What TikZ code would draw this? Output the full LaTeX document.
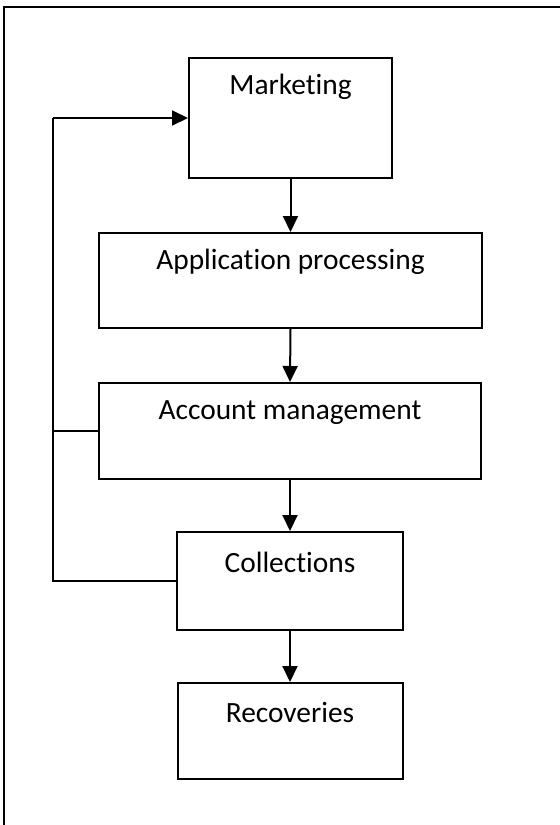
\documentclass[tikz,border=0pt]{standalone}
\usepackage{fontspec}
\setmainfont[Ligatures=NoCommon]{Carlito}
\usetikzlibrary{arrows.meta,calc}
\begin{document}
\begin{tikzpicture}[x=0.5pt,y=-0.5pt,
  stagebox/.style={draw,line width=1pt,rectangle,inner sep=0pt},
  stagetext/.style={font=\fontsize{14.7}{17}\selectfont,inner sep=0pt},
  flow/.style={line width=1pt,-{Triangle[length=8pt,width=7.5pt]}},
  link/.style={line width=1pt}]
\useasboundingbox (0,0) rectangle (560,825);
% outer frame (top and left edges run off the page)
\draw[line width=1.1pt] (4,830) -- (4,7) -- (570,7);
% stage boxes (sizes in pt, half the grid units)
\node[stagebox,minimum width=101.5pt,minimum height=60pt]  (mkt) at (290.5,118) {};
\node[stagebox,minimum width=191.5pt,minimum height=47.5pt] (app) at (290.5,280.5) {};
\node[stagebox,minimum width=191pt,minimum height=48pt]     (acc) at (290,431) {};
\node[stagebox,minimum width=113pt,minimum height=49pt]     (col) at (290,581) {};
\node[stagebox,minimum width=112.5pt,minimum height=48pt]   (rec) at (290,731) {};
% stage labels, set near the top of each box
\node[stagetext] (mkt-t) at ($(mkt.north)+(0,30)$) {Marketing};
\node[stagetext] (app-t) at ($(app.north)+(0,30)$) {Application processing};
\node[stagetext] (acc-t) at ($(acc.north)+(0,31)$) {Account management};
\node[stagetext] (col-t) at ($(col.north)+(0,31)$) {Collections};
\node[stagetext] (rec-t) at ($(rec.north)+(0,30)$) {Recoveries};
% main flow
\draw[flow] (mkt.south) -- (app.north);
\draw[flow] (app.south) -- (acc.north);
\draw[flow] (acc.south) -- (col.north);
\draw[flow] (col.south) -- (rec.north);
% feedback loop back to marketing
\coordinate (fbtop) at (53,118);
\coordinate (fbbot) at (53,581);
\coordinate (fbacc) at (53,431);
\draw[link] (col.west) -- (fbbot) -- (fbtop);
\draw[flow] (fbtop) -- (mkt.west);
\draw[link] (acc.west) -- (fbacc);
\end{tikzpicture}
\end{document}
